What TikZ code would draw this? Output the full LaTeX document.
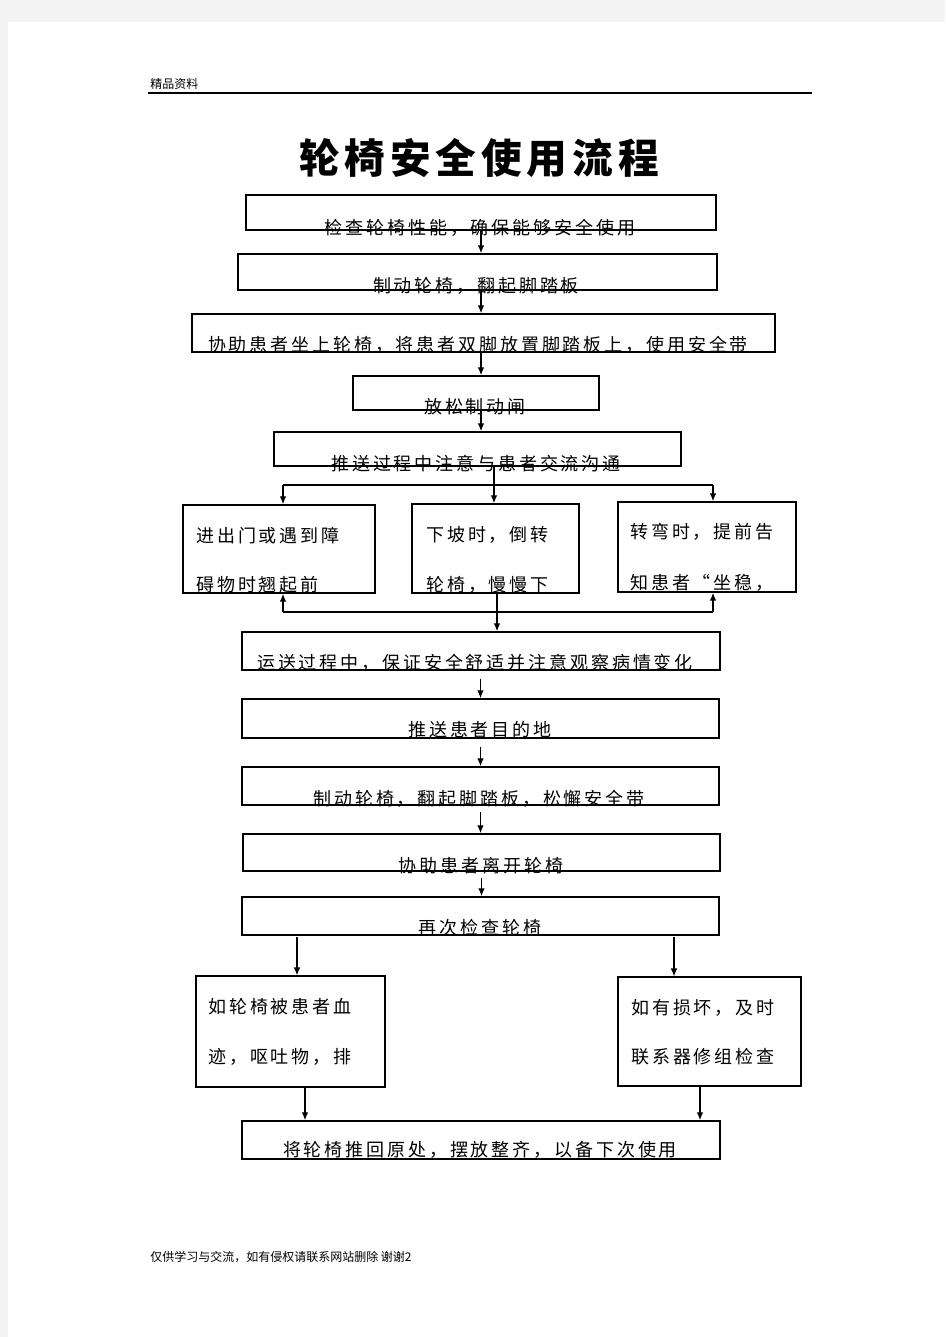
\documentclass[tikz,border=0pt]{standalone}
\usepackage{fontspec}
\setmainfont{Noto Sans CJK SC}
\newfontfamily\boxfont[LetterSpace=16]{Noto Sans CJK SC}
\newfontfamily\titlefont[LetterSpace=12]{Noto Sans CJK SC}
\usetikzlibrary{arrows.meta,positioning,calc}
\newdimen\pxu
\pxu=0.75pt
\definecolor{pagegray}{HTML}{F4F4F4}
\tikzset{
box/.style = {draw, line width=1.1pt, inner sep=0pt},
txt/.style = {font=\boxfont\fontsize{13.5pt}{16pt}\selectfont, inner sep=0pt},
small/.style = {font=\fontsize{9pt}{11pt}\selectfont, inner sep=0pt},
link/.style = {line width=1pt}
}

\begin{document}
\begin{tikzpicture}[x=0.75pt, y=-0.75pt, >={Latex[length=6pt,width=5pt]}]
	\useasboundingbox (0,0) rectangle (945,1337);
	\fill[pagegray] (0,0) rectangle (945,1337);
	\fill[white] (8,22) rectangle (945,1337);
	% header and footer
	\node[small, anchor=west] (head) at (150,84) {精品资料};
	\coordinate (hl) at (148,93);
	\coordinate (hr) at (812,93);
	\draw[line width=1.1pt] (hl) -- (hr);
	\node[small, anchor=west] (foot) at (150,1257) {仅供学习与交流，如有侵权请联系网站删除 谢谢2};
	\node[font=\titlefont\bfseries\fontsize{30.5pt}{34pt}\selectfont, inner sep=0pt] (title) at (479,158) {轮椅安全使用流程};
	% boxes
	\node[box, minimum width=470\pxu, minimum height=35\pxu] (b1) at (481,212.5) {};
	\node[box, minimum width=479\pxu, minimum height=36\pxu] (b2) at (477.5,272) {};
	\node[box, minimum width=583\pxu, minimum height=38\pxu] (b3) at (483.5,333) {};
	\node[box, minimum width=246\pxu, minimum height=34\pxu] (b4) at (476,393) {};
	\node[box, minimum width=407\pxu, minimum height=34\pxu] (b5) at (477.5,449) {};
	\node[box, minimum width=192\pxu, minimum height=88\pxu] (bl) at (279,549) {};
	\node[box, minimum width=167\pxu, minimum height=89\pxu] (bm) at (495.5,548.5) {};
	\node[box, minimum width=178\pxu, minimum height=90\pxu] (br) at (707,547) {};
	\node[box, minimum width=478\pxu, minimum height=38\pxu] (b6) at (481,651) {};
	\node[box, minimum width=477\pxu, minimum height=39\pxu] (b7) at (480.5,718.5) {};
	\node[box, minimum width=477\pxu, minimum height=38\pxu] (b8) at (480.5,786) {};
	\node[box, minimum width=477\pxu, minimum height=37\pxu] (b9) at (481.5,852.5) {};
	\node[box, minimum width=477\pxu, minimum height=38\pxu] (b10) at (480.5,916) {};
	\node[box, line width=0.9pt, minimum width=189\pxu, minimum height=111\pxu] (bbl) at (290.5,1031.5) {};
	\node[box, line width=0.9pt, minimum width=183\pxu, minimum height=109\pxu] (bbr) at (709.5,1031.5) {};
	\node[box, minimum width=478\pxu, minimum height=38\pxu] (bend) at (481,1140) {};
	% texts
	\node[txt] (t1) at (480,228) {检查轮椅性能，确保能够安全使用};
	\node[txt] (t2) at (476,286) {制动轮椅，翻起脚踏板};
	\node[txt] (t3) at (478,345) {协助患者坐上轮椅，将患者双脚放置脚踏板上，使用安全带};
	\node[txt] (t4) at (475,407) {放松制动闸};
	\node[txt] (t5) at (476,464) {推送过程中注意与患者交流沟通};
	\node[txt, anchor=west] (tl1) at (196,536) {进出门或遇到障};
	\node[txt, anchor=west] (tl2) at (196,585) {碍物时翘起前};
	\node[txt, anchor=west] (tm1) at (426,535) {下坡时，倒转};
	\node[txt, anchor=west] (tm2) at (426,585) {轮椅，慢慢下};
	\node[txt, anchor=west] (tr1) at (630,532) {转弯时，提前告};
	\node[txt, anchor=west] (tr2) at (630,583) {知患者“坐稳，};
	\node[txt] (t6) at (475,663) {运送过程中，保证安全舒适并注意观察病情变化};
	\node[txt] (t7) at (480,730) {推送患者目的地};
	\node[txt] (t8) at (479,799) {制动轮椅，翻起脚踏板，松懈安全带};
	\node[txt] (t9) at (481,866) {协助患者离开轮椅};
	\node[txt] (t10) at (480,928) {再次检查轮椅};
	\node[txt, anchor=west] (tbl1) at (208,1007) {如轮椅被患者血};
	\node[txt, anchor=west] (tbl2) at (208,1057) {迹，呕吐物，排};
	\node[txt, anchor=west] (tbr1) at (631,1008) {如有损坏，及时};
	\node[txt, anchor=west] (tbr2) at (631,1057) {联系器修组检查};
	\node[txt] (tend) at (480,1150) {将轮椅推回原处，摆放整齐，以备下次使用};
	% straight arrows
	\draw[link,->] (b1.south) -- (b1.south |- b2.north);
	\draw[link,->] (b1.south |- b2.south) -- (b1.south |- b3.north);
	\draw[link,->] (b1.south |- b3.south) -- (b1.south |- b4.north);
	\draw[link,->] (b1.south |- b4.south) -- (b1.south |- b5.north);
	% branching
	\coordinate (split) at (494,485);
	\coordinate (splitl) at (283,485);
	\coordinate (splitr) at (713,485);
	\draw[link,->] (split |- b5.south) -- (split |- bm.north);
	\draw[link] (splitl) -- (splitr);
	\draw[link,->] (splitl) -- (splitl |- bl.north);
	\draw[link,->] (splitr) -- (splitr |- br.north);
	\coordinate (join) at (497,612);
	\coordinate (joinl) at (283,612);
	\coordinate (joinr) at (713,612);
	\draw[link] (joinl) -- (joinr);
	\draw[link,->] (joinl) -- (joinl |- bl.south);
	\draw[link,->] (joinr) -- (joinr |- br.south);
	\draw[link,->] (join |- bm.south) -- (join |- b6.north);
	% lower chain
	\draw[link,->,shorten <=6pt] (b7.north |- b6.south) -- (b7.north);
	\draw[link,->,shorten <=6pt] (b7.south) -- (b7.south |- b8.north);
	\draw[link,->,shorten <=5pt] (b7.south |- b8.south) -- (b7.south |- b9.north);
	\draw[link,->,shorten <=5pt] (b9.south) -- (b9.south |- b10.north);
	\coordinate (downl) at (297,937);
	\coordinate (downr) at (674,937);
	\draw[link,->] (downl) -- (downl |- bbl.north);
	\draw[link,->] (downr) -- (downr |- bbr.north);
	\coordinate (backl) at (305,1087);
	\coordinate (backr) at (700,1086);
	\draw[link,->] (backl) -- (backl |- bend.north);
	\draw[link,->] (backr) -- (backr |- bend.north);
\end{tikzpicture}
\end{document}
